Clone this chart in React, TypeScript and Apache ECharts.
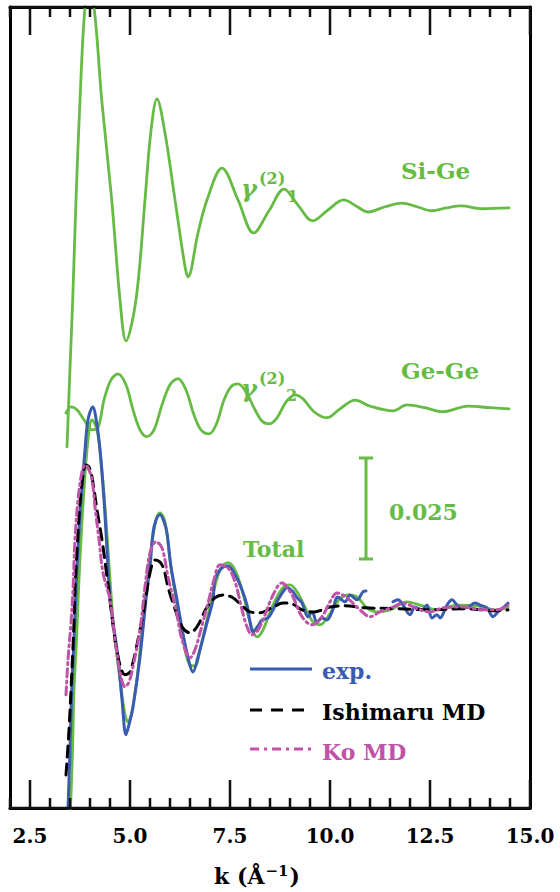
import React, { useEffect, useRef } from "react";
import * as echarts from "echarts";

// x axis: k in 1/Angstrom
const K_MIN = 2.0;
const K_MAX = 15.0;
const K_MAJOR = [2.5, 5.0, 7.5, 10.0, 12.5, 15.0];
const K_MINOR = [2.0, 3.0, 3.5, 4.0, 4.5, 5.5, 6.0, 6.5, 7.0, 8.0, 8.5, 9.0, 9.5, 10.5, 11.0, 11.5, 12.0, 13.0, 13.5, 14.0, 14.5];

// y axis: chi(k) arbitrary offset scale
const Y_MIN = -0.0497;
const Y_MAX = 0.1492;
const GEGE_OFFSET = 0.05;
const SIGE_OFFSET = 0.1;

// gamma(2)_1  Si-Ge  [k, chi]
const SIGE = [
  [3.425, -0.06], [3.518, -0.0359], [3.568, -0.0235], [3.65, 0.0013], [3.75, 0.0261],
  [3.875, 0.0492], [3.975, 0.0522], [4.1, 0.0492], [4.293, 0.0261], [4.543, 0.0013],
  [4.75, -0.0235], [4.9, -0.0337], [5.15, -0.0235], [5.375, 0.0013], [5.518, 0.0179],
  [5.675, 0.0264], [5.875, 0.0179], [6.125, 0.0013], [6.375, -0.0153], [6.45, -0.0178],
  [6.7, -0.0069], [6.925, 0.0013], [7.3, 0.0092], [7.7, 0.0013], [8.09, -0.0069],
  [8.475, -0.0014], [8.85, 0.004], [9.2, 0.0], [9.563, -0.0039], [9.95, -0.0012],
  [10.34, 0.0013], [10.65, -0.0002], [10.95, -0.0017], [11.375, -0.0004], [11.8, 0.0005],
  [12.175, -0.0004], [12.55, -0.0014], [12.9, -0.0007], [13.275, -0.0002], [13.8, -0.0009],
  [14.475, -0.0007],
];

// gamma(2)_2  Ge-Ge
const GEGE = [
  [3.4, -0.0016], [3.525, -0.0001], [3.675, -0.0008], [3.85, -0.0033], [4.05, -0.0058],
  [4.2, -0.0053], [4.35, 0.0016], [4.525, 0.0066], [4.7, 0.0081], [4.9, 0.0054],
  [5.075, -0.0008], [5.25, -0.0058], [5.425, -0.0075], [5.6, -0.0058], [5.8, 0.0004],
  [6.0, 0.0054], [6.2, 0.0069], [6.4, 0.0041], [6.6, -0.0021], [6.775, -0.0058],
  [6.975, -0.0068], [7.15, -0.0046], [7.35, 0.0016], [7.525, 0.0049], [7.7, 0.0056],
  [7.9, 0.0036], [8.125, -0.0008], [8.3, -0.0036], [8.475, -0.0043], [8.675, -0.0028],
  [8.9, 0.0011], [9.125, 0.0029], [9.325, 0.0019], [9.6, -0.0013], [9.925, -0.0028],
  [10.25, -0.0006], [10.625, 0.0016], [11.0, 0.0001], [11.575, -0.0011], [11.925, 0.0004],
  [12.375, -0.0003], [12.825, -0.0013], [13.45, 0.0001], [14.0, -0.0003], [14.475, -0.0006],
];

// Total, theory (green)
const TOTAL = [
  [3.5, -0.0514], [3.513, -0.0497], [3.563, -0.0353], [3.6, -0.0204], [3.663, -0.0079],
  [3.713, 0.0045], [3.775, 0.0169], [3.85, 0.0293], [3.95, 0.0417], [4.05, 0.0467],
  [4.175, 0.0442], [4.275, 0.0367], [4.4, 0.0218], [4.5, 0.007], [4.6, -0.0055],
  [4.75, -0.0179], [4.875, -0.0266], [4.95, -0.0283], [5.05, -0.0258], [5.2, -0.0154],
  [5.375, 0.002], [5.525, 0.0144], [5.65, 0.0218], [5.75, 0.0236], [5.875, 0.0214],
  [6.0, 0.0119], [6.175, 0.0007], [6.35, -0.0092], [6.5, -0.0142], [6.625, -0.0144],
  [6.75, -0.0104], [6.925, -0.003], [7.1, 0.0045], [7.275, 0.0099], [7.45, 0.0112],
  [7.65, 0.0089], [7.85, 0.0025], [8.0, -0.0035], [8.175, -0.0072], [8.325, -0.0055],
  [8.5, -0.001], [8.7, 0.0032], [8.875, 0.0055], [9.0, 0.0057], [9.175, 0.004],
  [9.375, 0.0002], [9.575, -0.0035], [9.75, -0.0042], [9.95, -0.0022], [10.125, 0.0007],
  [10.275, 0.0025], [10.45, 0.0032], [10.675, 0.0027], [10.925, 0.0], [11.175, -0.001],
  [11.5, -0.0005], [11.925, 0.0015], [12.25, 0.0007], [12.675, -0.0005], [13.175, 0.0007],
  [13.675, 0.0005], [14.175, -0.0005], [14.45, 0.0002],
];

// experiment (blue)
const EXP = [
  [3.438, -0.0526], [3.45, -0.0497], [3.5, -0.0353], [3.543, -0.0204], [3.6, -0.0079],
  [3.65, 0.0045], [3.713, 0.0169], [3.775, 0.0268], [3.875, 0.0392], [3.95, 0.0467],
  [4.068, 0.0499], [4.175, 0.0454], [4.25, 0.0392], [4.35, 0.0268], [4.425, 0.0144],
  [4.5, 0.002], [4.575, -0.0037], [4.7, -0.0122], [4.8, -0.0228], [4.9, -0.0315],
  [4.975, -0.029], [5.075, -0.0246], [5.25, -0.0122], [5.425, 0.0045], [5.5, 0.0102],
  [5.575, 0.0186], [5.65, 0.0218], [5.75, 0.0231], [5.85, 0.0214], [5.925, 0.0186],
  [6.025, 0.0102], [6.175, 0.002], [6.275, -0.0037], [6.425, -0.0112], [6.575, -0.0159],
  [6.7, -0.0122], [6.925, -0.0037], [7.075, 0.002], [7.125, 0.007], [7.275, 0.0097],
  [7.45, 0.0104], [7.625, 0.0082], [7.8, 0.0045], [7.925, 0.0007], [8.0, -0.0035],
  [8.075, -0.006], [8.2, -0.0045], [8.3, -0.003], [8.45, -0.0025], [8.55, -0.001],
  [8.7, 0.002], [8.825, 0.004], [8.925, 0.005], [9.075, 0.004], [9.175, 0.0025],
  [9.3, 0.0012], [9.45, -0.0022], [9.55, -0.001], [9.675, -0.0035], [9.8, -0.0025],
  [9.925, -0.003], [10.05, -0.001], [10.2, 0.0027], [10.375, 0.0015], [10.5, 0.0032],
  [10.675, 0.002], [10.825, 0.004], [10.9, 0.0042], [11.2, null], [11.575, 0.0015],
  [11.7, 0.002], [11.825, 0.0007], [12.0, -0.0017], [12.125, 0.0002], [12.3, -0.0005],
  [12.425, 0.0007], [12.55, -0.0025], [12.675, -0.0017], [12.75, -0.0025], [12.925, 0.0007],
  [13.05, 0.002], [13.175, 0.0007], [13.3, 0.0], [13.45, 0.0002], [13.625, 0.0012],
  [13.75, 0.0007], [13.925, 0.0], [14.075, -0.0022], [14.2, -0.001], [14.325, 0.0],
  [14.45, 0.0012],
];

// Ishimaru MD (black dashed)
const ISHIMARU = [
  [3.4, -0.0415], [3.475, -0.0303], [3.525, -0.0204], [3.6, -0.0037], [3.625, 0.0052],
  [3.675, 0.0144], [3.725, 0.0226], [3.8, 0.031], [3.9, 0.0355], [3.975, 0.035],
  [4.05, 0.0325], [4.175, 0.0243], [4.3, 0.0169], [4.425, 0.0077], [4.5, 0.002],
  [4.625, -0.0079], [4.75, -0.0142], [4.875, -0.0166], [5.0, -0.0159], [5.2, -0.0079],
  [5.375, 0.0012], [5.5, 0.0087], [5.625, 0.0119], [5.75, 0.0114], [5.85, 0.0094],
  [5.95, 0.0052], [6.075, 0.0012], [6.3, -0.0047], [6.5, -0.0062], [6.675, -0.0047],
  [6.925, 0.0002], [7.125, 0.0025], [7.325, 0.0032], [7.575, 0.0025], [7.8, 0.0005],
  [8.0, -0.001], [8.25, -0.0012], [8.575, 0.0002], [8.825, 0.0012], [9.05, 0.001],
  [9.3, -0.0005], [9.6, -0.001], [10.0, 0.0002], [10.375, 0.0005], [10.875, 0.0],
  [11.675, -0.0002], [12.5, -0.0005], [13.325, -0.0002], [14.175, -0.0007], [14.45, -0.0005],
];

// Ko MD (magenta dash-dot)
const KO = [
  [3.4, -0.0216], [3.45, -0.0129], [3.525, -0.0037], [3.575, 0.0045], [3.625, 0.0169],
  [3.7, 0.0268], [3.8, 0.0338], [3.875, 0.0355], [3.95, 0.0348], [4.05, 0.0318],
  [4.125, 0.0251], [4.225, 0.0169], [4.325, 0.0087], [4.5, 0.002], [4.625, -0.0079],
  [4.75, -0.0159], [4.875, -0.0196], [4.975, -0.0184], [5.075, -0.0146], [5.25, -0.0055],
  [5.375, 0.0052], [5.5, 0.0137], [5.65, 0.0164], [5.8, 0.0149], [5.95, 0.0077],
  [6.15, -0.0005], [6.3, -0.0079], [6.5, -0.0124], [6.625, -0.0104], [6.75, -0.0062],
  [6.95, 0.0012], [7.1, 0.007], [7.25, 0.0107], [7.45, 0.0099], [7.625, 0.0065],
  [7.8, -0.0005], [7.925, -0.0047], [8.05, -0.0067], [8.2, -0.0055], [8.325, -0.003],
  [8.575, 0.0032], [8.8, 0.0062], [9.05, 0.0032], [9.3, -0.0022], [9.55, -0.0042],
  [9.8, -0.0022], [10.0, 0.0015], [10.175, 0.0037], [10.425, 0.0025], [10.75, -0.0005],
  [11.0, -0.0022], [11.25, -0.001], [11.575, 0.0002], [11.825, 0.0012], [12.175, -0.0002],
  [12.5, -0.001], [12.825, 0.0], [13.325, 0.0002], [13.825, -0.0005], [14.175, -0.0005],
  [14.45, 0.0007],
];

const GREEN = "#66bb44";
const BLUE = "#3a5cb0";
const PINK = "#c052a8";
const BLACK = "#000000";
const FONT = "DejaVu Serif";
const MAJOR_LEN = 28;
const MINOR_LEN = 10;

const GRID = { left: 10, right: 30, top: 7, bottom: 84 };
const W = 560;
const H = 892;

const shift = (pts: (number | null)[][], off: number) =>
  pts.map(([k, v]) => [k, v == null ? null : (v as number) + off]);

function App() {
  const ref = useRef<HTMLDivElement>(null);
  useEffect(() => {
    const chart = echarts.init(ref.current!, null, { renderer: "svg" });
    const frameLine = { show: true, onZero: false, lineStyle: { color: BLACK, width: 3 } };
    const xAx = (position: string, showLabel: boolean) => ({
      type: "value",
      position,
      min: K_MIN,
      max: K_MAX,
      axisLine: frameLine,
      splitLine: { show: false },
      axisTick: { show: false },
      axisLabel: showLabel
        ? {
            show: true,
            customValues: K_MAJOR,
            showMinLabel: true,
            showMaxLabel: true,
            formatter: (v: number) => v.toFixed(1),
            color: BLACK,
            fontFamily: FONT,
            fontWeight: "bold",
            fontSize: 20,
            margin: 18,
          }
        : { show: false },
    });
    const yAx = (position: string) => ({
      type: "value",
      position,
      min: Y_MIN,
      max: Y_MAX,
      axisLine: frameLine,
      axisTick: { show: false },
      axisLabel: { show: false },
      splitLine: { show: false },
    });
    const line = (name: string, data: any[], color: string, width: number, type: any, z: number) => ({
      name,
      type: "line",
      data,
      xAxisIndex: 0,
      yAxisIndex: 0,
      showSymbol: false,
      symbol: "none",
      smooth: 0.35,
      clip: true,
      connectNulls: false,
      z,
      lineStyle: { color, width, type, cap: "round", join: "round" },
    });
    const txt = (x: number, y: number, text: string, color: string, size: number, extra: any = {}) => ({
      type: "text",
      x,
      y,
      z: 100,
      style: {
        text,
        fill: color,
        font: `bold ${size}px "${FONT}"`,
        verticalAlign: "middle",
        ...extra,
      },
    });
    const gl = (x1: number, y1: number, x2: number, y2: number, color: string, dash?: number[]) => ({
      type: "line",
      z: 100,
      shape: { x1, y1, x2, y2 },
      style: { stroke: color, lineWidth: 3, lineDash: dash },
    });

    chart.setOption({
      animation: false,
      backgroundColor: "#ffffff",
      grid: { ...GRID, show: false },
      xAxis: [xAx("bottom", true), xAx("top", false)],
      yAxis: [yAx("left"), yAx("right")],
      series: [
        line("Si-Ge", shift(SIGE, SIGE_OFFSET), GREEN, 2.8, "solid", 2),
        line("Ge-Ge", shift(GEGE, GEGE_OFFSET), GREEN, 2.8, "solid", 2),
        line("Total", shift(TOTAL, 0), GREEN, 2.8, "solid", 2),
        line("exp.", shift(EXP, 0), BLUE, 3, "solid", 3),
        line("Ishimaru MD", shift(ISHIMARU, 0), BLACK, 3, [11, 7], 4),
        line("Ko MD", shift(KO, 0), PINK, 3, [8, 4, 2, 4], 5),
      ],
    });

    // tick marks: one comb-shaped polyline per edge, x positions from the chart's x scale
    const yBottom = H - GRID.bottom;
    const yTop = GRID.top;
    const toPx = (k: number) => {
      let p: any = null;
      try {
        p = chart.convertToPixel({ gridIndex: 0 }, [k, Y_MIN]);
      } catch (e) {
        p = null;
      }
      if (Array.isArray(p) && isFinite(Number(p[0]))) return Math.round(Number(p[0]) * 2) / 2;
      return GRID.left + ((k - K_MIN) / (K_MAX - K_MIN)) * (W - GRID.left - GRID.right);
    };
    const allTicks = [
      ...K_MAJOR.map((k) => ({ k, len: MAJOR_LEN })),
      ...K_MINOR.map((k) => ({ k, len: MINOR_LEN })),
    ].sort((a, b) => a.k - b.k);
    const bottomPts: number[][] = [];
    const topPts: number[][] = [];
    allTicks.forEach(({ k, len }) => {
      const x = toPx(k);
      bottomPts.push([x, yBottom], [x, yBottom - len], [x, yBottom]);
      topPts.push([x, yTop], [x, yTop + len], [x, yTop]);
    });

    chart.setOption({
      graphic: [
        {
          type: "polyline",
          z: 150,
          shape: { points: bottomPts },
          style: { stroke: "#111111", lineWidth: 2.5, fill: null },
        },
        {
          type: "polyline",
          z: 150,
          shape: { points: topPts },
          style: { stroke: "#111111", lineWidth: 2.5, fill: null },
        },
        txt(401, 170, "Si-Ge", GREEN, 23),
        txt(401, 370, "Ge-Ge", GREEN, 23),
        txt(243, 549, "Total", GREEN, 22),
        txt(389, 512, "0.025", GREEN, 22),
        // gamma labels
        txt(241, 188, "γ", GREEN, 24, { font: `bold italic 24px "${FONT}"` }),
        txt(259, 178, "(2)", GREEN, 16),
        txt(287, 196, "1", GREEN, 16),
        txt(241, 388, "γ", GREEN, 24, { font: `bold italic 24px "${FONT}"` }),
        txt(259, 378, "(2)", GREEN, 16),
        txt(286, 395, "2", GREEN, 16),
        // scale bar for 0.025
        gl(366, 458, 366, 559, GREEN),
        gl(359, 458, 373, 458, GREEN),
        gl(359, 559, 373, 559, GREEN),
        // legend
        gl(250, 669, 312, 669, BLUE),
        gl(250, 710, 312, 710, BLACK, [12, 9]),
        gl(250, 749, 312, 749, PINK, [9, 5, 3, 5]),
        txt(322, 671, "exp.", BLUE, 22),
        txt(322, 712, "Ishimaru MD", BLACK, 22),
        txt(322, 752, "Ko MD", PINK, 22),
        // axis title
        {
          type: "text",
          x: 257,
          y: 875,
          z: 100,
          style: {
            text: "{n|k (Å}{s|−1}{n|)}",
            align: "center",
            verticalAlign: "middle",
            rich: {
              n: { fontFamily: FONT, fontWeight: "bold", fontSize: 22, fill: BLACK, lineHeight: 24, verticalAlign: "bottom" },
              s: { fontFamily: FONT, fontWeight: "bold", fontSize: 15, fill: BLACK, lineHeight: 24, verticalAlign: "top", padding: [0, 1, 0, 1] },
            },
          },
        },
      ],
    });
    return () => chart.dispose();
  }, []);
  return <div ref={ref} style={{ position: "fixed", left: 0, top: 0, width: W, height: H }} />;
}

export default App;
